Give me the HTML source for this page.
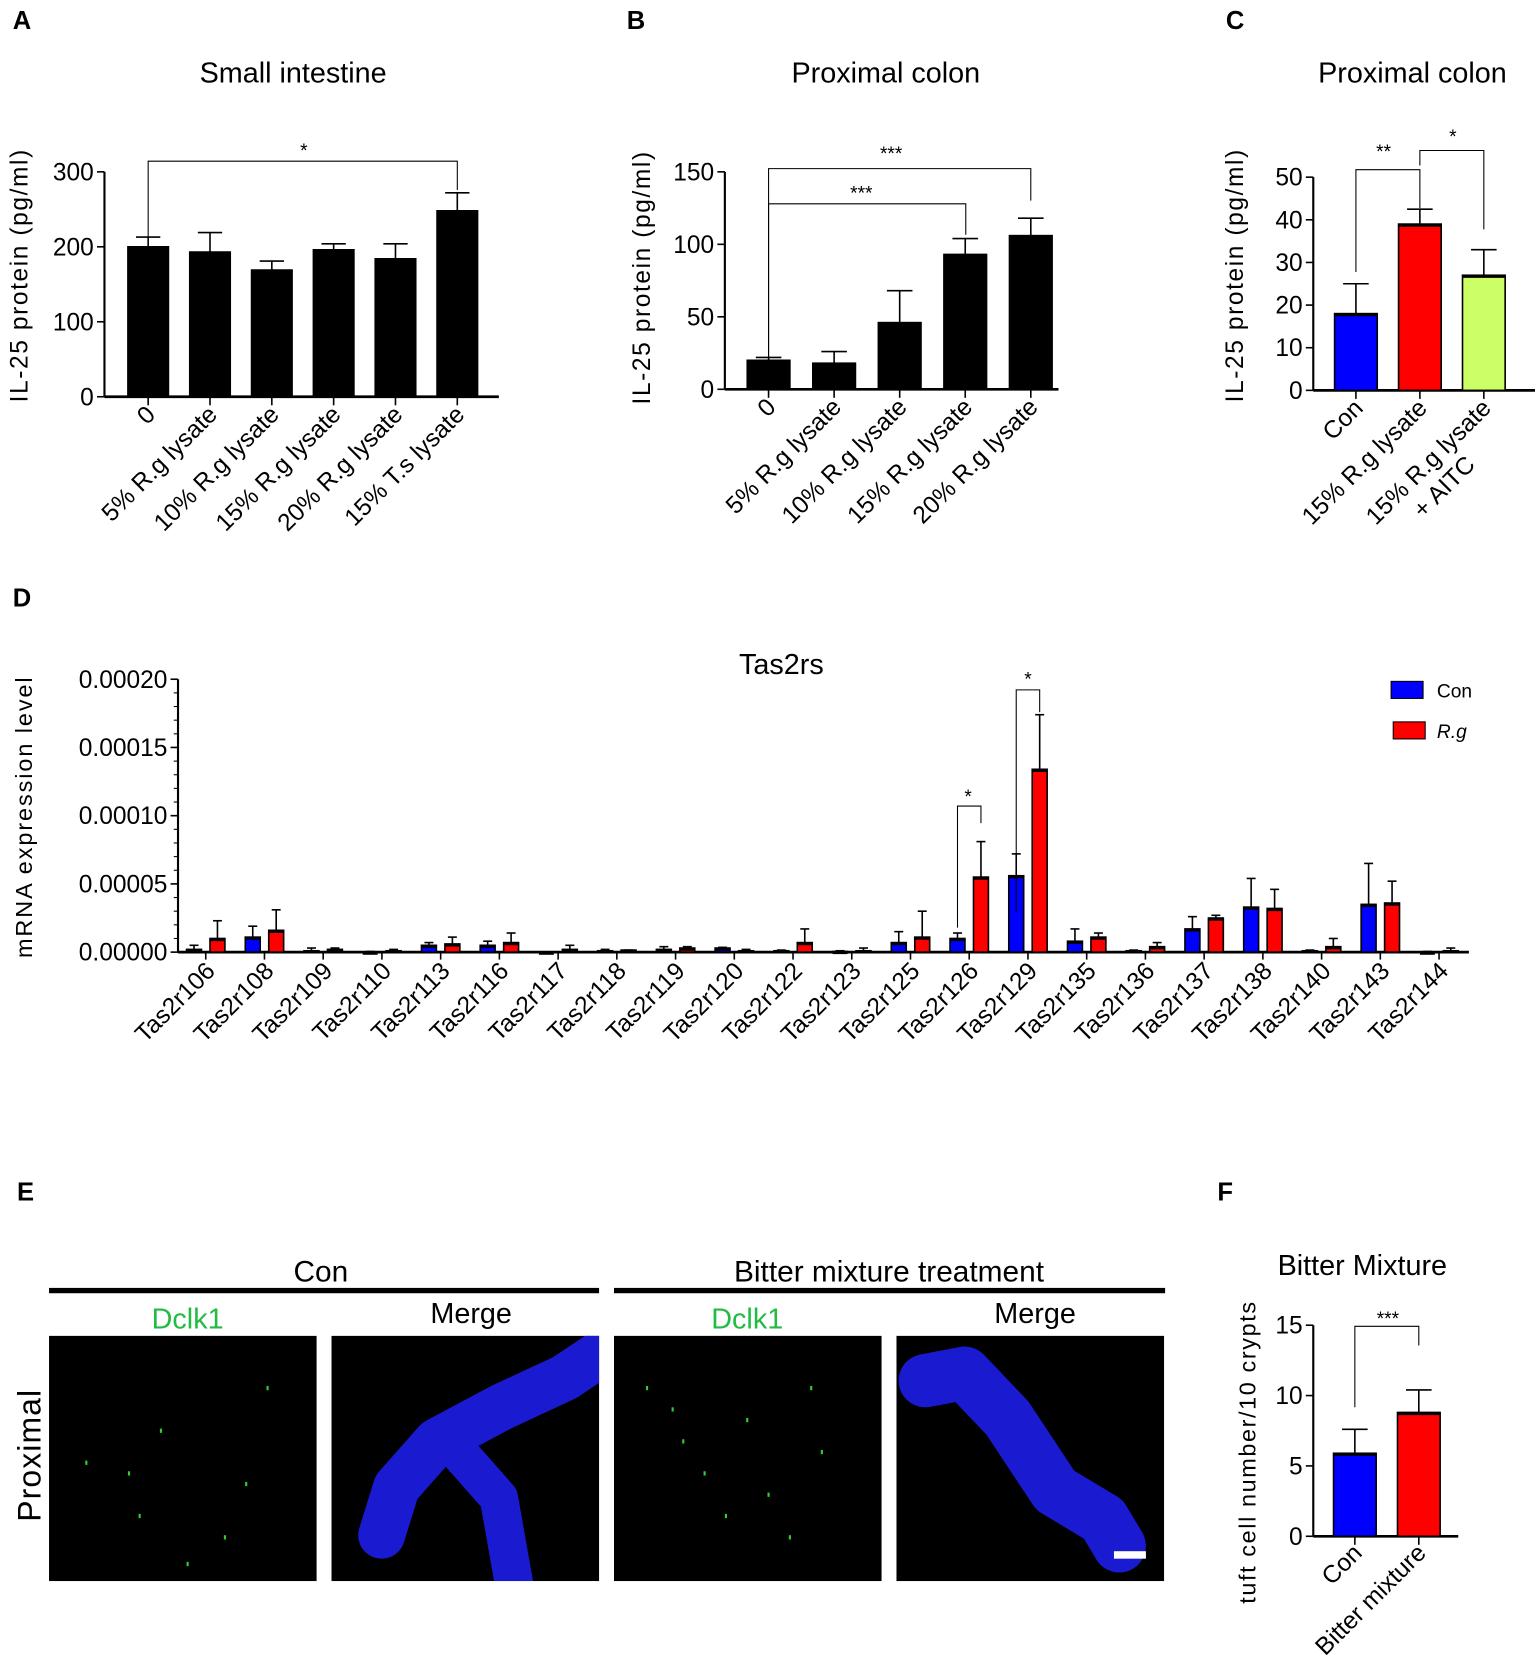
<!DOCTYPE html>
<html><head><meta charset="utf-8"><style>
html,body{margin:0;padding:0;background:#fff}
svg{display:block;font-family:"Liberation Sans",Arial,sans-serif}
</style></head><body>
<svg id="fig" width="1535" height="1674" viewBox="0 0 1440 1570" xmlns="http://www.w3.org/2000/svg">
<defs>
<clipPath id="clipMc"><rect x="311" y="1253" width="251" height="230"/></clipPath>
<clipPath id="clipMb"><rect x="841" y="1253" width="252" height="230"/></clipPath>
</defs>
<g id="root"></g>
</svg>
<script>
// Panel A data
const aCats=["0","5% R.g lysate","10% R.g lysate","15% R.g lysate","20% R.g lysate","15% T.s lysate"];
const aVals=[200,193,169,196,184,248];
const aErr=[213,219,181,204,204,272];
const aTicks=[0,100,200,300];
// Panel B data
const bCats=["0","5% R.g lysate","10% R.g lysate","15% R.g lysate","20% R.g lysate"];
const bVals=[20,18,46,93,106];
const bErr=[22,26,68,104,118];
const bTicks=[0,50,100,150];
// Panel C data
const cCats=["Con","15% R.g lysate","15% R.g lysate\n+ AITC"];
const cVals=[18,39,27];
const cErr=[25,42.5,33];
const cTicks=[0,10,20,30,40,50];
// Panel D data
const dCats=["Tas2r106","Tas2r108","Tas2r109","Tas2r110","Tas2r113","Tas2r116","Tas2r117","Tas2r118","Tas2r119","Tas2r120","Tas2r122","Tas2r123","Tas2r125","Tas2r126","Tas2r129","Tas2r135","Tas2r136","Tas2r137","Tas2r138","Tas2r140","Tas2r143","Tas2r144"];
const dCon=[0.2,1.1,0.1,0,0.5,0.5,0,0.1,0.2,0.3,0.1,0.05,0.7,1.0,5.6,0.8,0.1,1.7,3.3,0.1,3.5,0];
const dConErr=[0.5,1.9,0.3,0.05,0.7,0.8,0,0.2,0.4,0.35,0.15,0.1,1.5,1.4,7.2,1.7,0.15,2.6,5.4,0.15,6.5,0.05];
const dRg=[1.0,1.6,0.2,0.1,0.6,0.7,0.2,0.15,0.3,0.1,0.7,0.1,1.1,5.5,13.4,1.1,0.4,2.5,3.2,0.4,3.6,0.1];
const dRgErr=[2.3,3.1,0.3,0.2,1.1,1.4,0.5,0.15,0.4,0.2,1.7,0.3,3.0,8.1,17.4,1.4,0.7,2.7,4.6,1.0,5.2,0.3];
const dTicks=[0,5,10,15,20];
const dTickLabels=["0.00000","0.00005","0.00010","0.00015","0.00020"];
// Panel F data
const fCats=["Con","Bitter mixture"];
const fVals=[5.9,8.8];
const fErr=[7.6,10.4];
const fTicks=[0,5,10,15];

const NS="http://www.w3.org/2000/svg";
const root=document.getElementById('root');
function el(tag,attrs,parent,text){const e=document.createElementNS(NS,tag);for(const k in attrs)e.setAttribute(k,attrs[k]);if(text!==undefined)e.textContent=text;(parent||root).appendChild(e);return e;}
function line(x1,y1,x2,y2,w,p,c){return el('line',{x1,y1,x2,y2,stroke:c||'#000','stroke-width':w||1.5},p);}

function panelLetter(t,x,y){const e=el('text',{x,y,'font-size':24,'font-weight':'bold'},root,t);

}
panelLetter('A',12,27);panelLetter('B',588,27);panelLetter('C',1150,27);panelLetter('D',12,569);panelLetter('E',16,1126);panelLetter('F',1142,1126);

function barChart(o){
  const g=el('g',{});
  
  
  const y=v=>o.y0-(v-o.min)/(o.max-o.min)*(o.y0-o.yTop);
  const t=el('text',{x:o.titleX,y:o.titleY,'font-size':o.titleSize||27,'text-anchor':'middle'},g,o.title);
  
  
  line(o.ax,o.yTop,o.ax,o.y0,2,g);
  o.ticks.forEach((tv,i)=>{const yy=y(tv);line(o.ax-7,yy,o.ax,yy,1.5,g);
    const tl=el('text',{x:o.ax-10,y:yy+8,'font-size':o.tickSize||23,'text-anchor':'end'},g,o.tickLabels?o.tickLabels[i]:String(tv));
    
    });
  if(o.minor){for(let v=o.min;v<=o.max+1e-9;v+=o.minor){line(o.ax-4,y(v),o.ax,y(v),1,g);}}
  const yl=el('text',{transform:`translate(${o.ylX},${o.ylY}) rotate(-90)`,'font-size':o.ylSize||22,'text-anchor':'middle','letter-spacing':o.ylSpacing||1},g,o.yLabel);
  
  
  line(o.ax,o.y0,o.axEnd,o.y0,2.5,g);
  return {g,y};
}
function drawBar(g,cx,w,top,bottom,err,fill,name){
  line(cx,top,cx,err,1.5,g);line(cx-w*0.3,err,cx+w*0.3,err,1.5,g);
  const r=el('rect',{x:cx-w/2,y:top,width:w,height:Math.max(0,bottom-top),fill,stroke:'#000','stroke-width':1.5},g);
  
  
  line(cx-w/2,top+1,cx+w/2,top+1,3,g);
}
function xLabel(g,x,y,txt,size){
  const lines=txt.split('\n');
  const t=el('text',{transform:`translate(${x},${y}) rotate(-45)`,'font-size':size||23,'text-anchor':'end'},g,lines[0]);
  
  
  if(lines[1]){
    const t2=el('text',{transform:`translate(${x-40},${y+78}) rotate(-45)`,'font-size':size||23,'text-anchor':'middle'},g,lines[1]);
    
    
  }
}
function bracket(g,x1,x2,yb,l1,l2,stars,sx,sy){
  const p=el('path',{d:`M${x1},${l1} L${x1},${yb} L${x2},${yb} L${x2},${l2}`,fill:'none',stroke:'#000','stroke-width':1},g);
  
  
  const t=el('text',{x:sx,y:sy,'font-size':18,'text-anchor':'middle'},g,stars);
  
  
}

// Panel A
{const A=barChart({name:'panel-a-chart',title:'Small intestine',titleX:275,titleY:77,ax:98,axEnd:468,yTop:161,y0:372,min:0,max:300,ticks:aTicks,ylX:26,ylY:258,yLabel:'IL-25 protein (pg/ml)',ylSize:23,ylSpacing:1.5});
 aCats.forEach((c,i)=>{const cx=139+i*58;drawBar(A.g,cx,38,A.y(aVals[i]),372,A.y(aErr[i]),'#000','bar-'+i);line(cx,372,cx,380,1.5,A.g);xLabel(A.g,cx+8,390,c);});
 bracket(A.g,139,429,151,225,178,'*',285,147);}
// Panel B
{const B=barChart({name:'panel-b-chart',title:'Proximal colon',titleX:831,titleY:77,ax:680,axEnd:993,yTop:161,y0:365,min:0,max:150,ticks:bTicks,ylX:610,ylY:260,yLabel:'IL-25 protein (pg/ml)',ylSize:23,ylSpacing:1.5});
 bCats.forEach((c,i)=>{const cx=721+i*61.5;drawBar(B.g,cx,40,B.y(bVals[i]),365,B.y(bErr[i]),'#000','bar-'+i);line(cx,365,cx,373,1.5,B.g);xLabel(B.g,cx+8,383,c);});
 bracket(B.g,721,967,158,345,188,'***',836,150);
 bracket(B.g,721,906,191,345,220,'***',808,187);}
// Panel C
{const C=barChart({name:'panel-c-chart',title:'Proximal colon',titleX:1325,titleY:77,ax:1232,axEnd:1440,yTop:166,y0:366,min:0,max:50,ticks:cTicks,ylX:1166,ylY:258,yLabel:'IL-25 protein (pg/ml)',ylSize:23,ylSpacing:1.5});
 const cols=['#0000ff','#ff0000','#ccff66'];
 cCats.forEach((c,i)=>{const cx=1272+i*60;drawBar(C.g,cx,40,C.y(cVals[i]),366,C.y(cErr[i]),cols[i],'bar-'+i);line(cx,366,cx,374,1.5,C.g);xLabel(C.g,cx+8,384,c);});
 bracket(C.g,1272,1332,159,255,195,'**',1298,148);
 bracket(C.g,1332,1392,141,155,215,'*',1363,134);}
// Panel D
{const D=barChart({name:'panel-d-chart',title:'Tas2rs',titleX:733,titleY:632,ax:167,axEnd:1378,yTop:637,y0:893,min:0,max:20,ticks:dTicks,tickLabels:dTickLabels,minor:1,ylX:30,ylY:766,yLabel:'mRNA expression level',tickSize:23,ylSize:22,ylSpacing:1.8});
 const step=(1350-193)/(dCats.length-1);
 dCats.forEach((c,i)=>{const cx=193+i*step;
  drawBar(D.g,cx-11,14,D.y(dCon[i]),893,D.y(dConErr[i]),'#0000ff','con-bar-'+c);
  drawBar(D.g,cx+11,14,D.y(dRg[i]),893,D.y(dRgErr[i]),'#ff0000','rg-bar-'+c);
  line(cx,893,cx,900,1.5,D.g);xLabel(D.g,cx+10,912,c,23);});
 const i126=dCats.indexOf('Tas2r126'),i129=dCats.indexOf('Tas2r129');
 const x126=193+i126*step,x129=193+i129*step;
 bracket(D.g,x126-11,x126+11,756,870,772,'*',x126-1,753);
 bracket(D.g,x129-11,x129+11,647,855,668,'*',x129,643);
 const l1=el('rect',{x:1305,y:639,width:30,height:16,fill:'#0000ff',stroke:'#000','stroke-width':1},D.g);
 
 
 const t1=el('text',{x:1348,y:654,'font-size':18},D.g,'Con');
 
 
 const l2=el('rect',{x:1307,y:677,width:30,height:16,fill:'#ff0000',stroke:'#000','stroke-width':1},D.g);
 
 
 const t2=el('text',{x:1348,y:692,'font-size':18,'font-style':'italic'},D.g,'R.g');
 
 }
// Panel F
{const F=barChart({name:'panel-f-chart',title:'Bitter Mixture',titleX:1278,titleY:1196,titleSize:27,ax:1232,axEnd:1368,yTop:1243,y0:1441,min:0,max:15,ticks:fTicks,ylX:1178,ylY:1362,yLabel:'tuft cell number/10 crypts',ylSize:22,ylSpacing:1.5});
 const cols=['#0000ff','#ff0000'];
 fCats.forEach((c,i)=>{const cx=1271+i*60;drawBar(F.g,cx,40,F.y(fVals[i]),1441,F.y(fErr[i]),cols[i],'bar-'+i);line(cx,1441,cx,1449,1.5,F.g);xLabel(F.g,cx+8,1458,c);});
 bracket(F.g,1271,1331,1244,1320,1262,'***',1302,1243);}

// Panel E
{const g=el('g',{});
 
 
 function txt(x,y,s,size,fill,name){const t=el('text',{x,y,'font-size':size,'text-anchor':'middle',fill:fill||'#000'},g,s);}
 txt(301,1202,'Con',28,'#000','group-label-con');
 txt(834,1202,'Bitter mixture treatment',28,'#000','group-label-bitter');
 el('rect',{x:46,y:1208,width:516,height:5,fill:'#000'},g);
 el('rect',{x:576,y:1208,width:517,height:5,fill:'#000'},g);
 txt(176,1246,'Dclk1',27,'#22bb44','label-dclk1-con');
 txt(442,1241,'Merge',27,'#000','label-merge-con');
 txt(701,1246,'Dclk1',27,'#22bb44','label-dclk1-bitter');
 txt(971,1241,'Merge',27,'#000','label-merge-bitter');
 const pl=el('text',{transform:'translate(38,1365) rotate(-90)','font-size':30,'text-anchor':'middle','letter-spacing':1},g,'Proximal');
 
 
 [[46,'image-dclk1-con'],[311,'image-merge-con'],[576,'image-dclk1-bitter'],[841,'image-merge-bitter']].forEach(([x,n])=>{
   const r=el('rect',{x,y:1253,width:251,height:230,fill:'#000'},g);});
 const gc=el('g',{'clip-path':'url(#clipMc)'},g);
 el('path',{d:'M575,1262 L530,1292 L470,1320 L410,1352 L372,1395 L358,1440',fill:'none',stroke:'#1a1ad0','stroke-width':44,'stroke-linejoin':'round','stroke-linecap':'round'},gc);
 el('path',{d:'M430,1362 L468,1405 L483,1490',fill:'none',stroke:'#1a1ad0','stroke-width':36,'stroke-linejoin':'round'},gc);
 const gb=el('g',{'clip-path':'url(#clipMb)'},g);
 el('path',{d:'M868,1295 L905,1288 L945,1330 L990,1398 L1035,1425 L1050,1450',fill:'none',stroke:'#1a1ad0','stroke-width':50,'stroke-linejoin':'round','stroke-linecap':'round'},gb);
 el('rect',{x:1045,y:1455,width:30,height:7,fill:'#fff'},g);
 const dots=[[80,1370],[130,1420],[150,1340],[210,1440],[250,1300],[120,1380],[230,1390],[175,1465],[606,1300],[640,1350],[660,1380],[700,1330],[720,1400],[760,1300],[740,1440],[770,1360],[680,1420],[630,1320]];
 dots.forEach(([x,y])=>el('rect',{x,y,width:2,height:4,fill:'#3c3'},g));}
</script>
</body></html>
